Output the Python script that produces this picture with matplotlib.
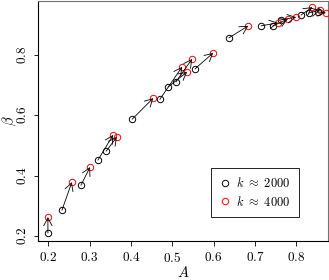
import matplotlib
matplotlib.use("Agg")
import matplotlib.pyplot as plt
from matplotlib.patches import FancyArrowPatch
from matplotlib.lines import Line2D

plt.rcParams['mathtext.fontset'] = 'cm'
plt.rcParams['font.family'] = 'serif'
plt.rcParams['font.serif'] = ['DejaVu Serif']

# estimativas (k ~ 2000) -> (k ~ 4000)
A_2000 = [0.199, 0.233, 0.279, 0.320, 0.340, 0.403, 0.470, 0.490, 0.509,
          0.555, 0.637, 0.715, 0.744, 0.763, 0.812, 0.831, 0.853]
beta_2000 = [0.209, 0.285, 0.368, 0.451, 0.481, 0.587, 0.653, 0.694, 0.711,
             0.754, 0.857, 0.897, 0.897, 0.917, 0.933, 0.940, 0.943]
A_4000 = [0.199, 0.257, 0.301, 0.357, 0.366, 0.454, 0.524, 0.536, 0.548,
          0.599, 0.684, 0.756, 0.780, 0.800, 0.839, 0.858, 0.872]
beta_4000 = [0.262, 0.378, 0.428, 0.535, 0.528, 0.657, 0.761, 0.744, 0.787,
             0.807, 0.897, 0.907, 0.920, 0.926, 0.959, 0.949, 0.940]

xticks = [0.2, 0.3, 0.4, 0.5, 0.6, 0.7, 0.8]
yticks = [0.2, 0.4, 0.6, 0.8]
leg_labels = [r'$k\ \approx\ 2000$', r'$k\ \approx\ 4000$']

fig = plt.figure(figsize=(3.29, 2.80), dpi=100)
ax = fig.add_axes([0.1146, 0.139, 0.8834, 0.859])

ms = 4.6
ax.plot(A_2000, beta_2000, 'o', mfc='none', mec='black', ms=ms, mew=0.7, zorder=3)
ax.plot(A_4000, beta_4000, 'o', mfc='none', mec='red', ms=ms, mew=0.7, zorder=3)

# flechas de k~2000 para k~4000
for x0, y0, x1, y1 in zip(A_2000, beta_2000, A_4000, beta_4000):
    arr = FancyArrowPatch((x0, y0), (x1, y1),
                          arrowstyle='->,head_length=5.5,head_width=3',
                          mutation_scale=1, shrinkA=0, shrinkB=0,
                          color='black', lw=0.6, zorder=4)
    ax.add_patch(arr)

ax.set_xlim(0.1743, 0.878)
ax.set_ylim(0.1824, 0.981)

ax.set_xticks(xticks)
ax.set_xticklabels(['$%.1f$' % t for t in xticks], fontsize=9.5)
ax.set_yticks(yticks)
ax.set_yticklabels(['$%.1f$' % t for t in yticks], fontsize=9.5,
                   rotation=90, va='center')
ax.tick_params(axis='x', length=3.5, width=0.6, pad=4)
ax.tick_params(axis='y', length=3, width=0.6, pad=3)

for s in ['left', 'bottom']:
    ax.spines[s].set_linewidth(0.8)
for s in ['top', 'right']:
    ax.spines[s].set_linewidth(0.8)
    ax.spines[s].set_color('0.45')

ax.set_xlabel('$A$', fontsize=10.5, labelpad=0)
ax.set_ylabel(r'$\beta$', fontsize=10.5)
ax.yaxis.set_label_coords(-0.066, 0.5)

handles = [Line2D([], [], ls='none', marker='o', mfc='none', mec='black', ms=ms, mew=0.7),
           Line2D([], [], ls='none', marker='o', mfc='none', mec='red', ms=ms, mew=0.7)]
leg = ax.legend(handles, leg_labels, loc='lower right',
                bbox_to_anchor=(0.900, 0.0985), borderaxespad=0,
                fancybox=False, edgecolor='black', framealpha=1,
                fontsize=9, handlelength=0.8, handletextpad=0.5,
                borderpad=0.7, labelspacing=0.35)
leg.get_frame().set_linewidth(0.6)

fig.savefig('out.png', dpi=100)
